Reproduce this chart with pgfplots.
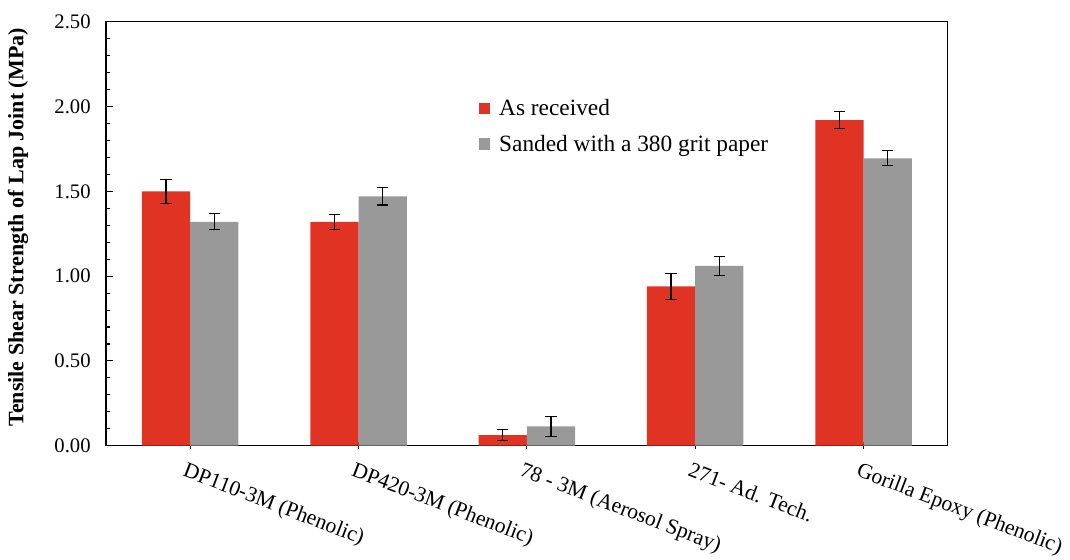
\documentclass[border=0pt]{standalone}
\usepackage{pgfplots}
\pgfplotsset{compat=1.18}
\usepackage{fontspec}
\setmainfont{Liberation Serif}
\definecolor{barred}{RGB}{224,51,36}
\definecolor{bargray}{RGB}{153,153,153}
\pgfplotsset{sqlegend/.style={legend image code/.code={\fill[##1] (0pt,-4.3pt) rectangle (8.6pt,4.3pt); \path (13.2pt,0pt);}}}
\begin{document}
\begin{tikzpicture}[font=\rmfamily]
\begin{axis}[
  at={(0,0)}, anchor=south west,
  width=631.3pt, height=318pt, scale only axis,
  ybar, bar width=36.2pt,
  xmin=-0.5, xmax=4.5, ymin=0, ymax=2.5,
  xtick={0,1,2,3,4},
  xticklabels={DP110-3M (Phenolic), DP420-3M (Phenolic), 78 - 3M (Aerosol Spray), 271- Ad. Tech., Gorilla Epoxy (Phenolic)},
  ytick={0,0.5,1,1.5,2,2.5},
  minor y tick num=4,
  xtick pos=bottom, ytick pos=left,
  xtick align=center, ytick align=inside,
  major tick length=5pt, minor tick length=3pt,
  tick style={black, line width=0.8pt},
  axis line style={black, line width=1.1pt},
  yticklabel style={font=\rmfamily\fontsize{15.5}{18}\selectfont, xshift=-8pt, /pgf/number format/.cd, fixed, fixed zerofill, precision=2, assume math mode=true},
  xticklabel style={font=\rmfamily\fontsize{16.2}{19}\selectfont, rotate=-21, anchor=north west, xshift=-2pt, yshift=-6pt},
  ylabel={Tensile Shear Strength of Lap Joint (MPa)},
  ylabel style={font=\rmfamily\bfseries\fontsize{16.5}{19}\selectfont, at={(axis description cs:-0.1046,0.515)}, anchor=center},
  legend style={at={(0.438,0.83)}, anchor=north west, draw=none, fill=none, font=\rmfamily\fontsize{17.5}{21}\selectfont, row sep=9pt},
  legend cell align=left,
  sqlegend,
]
\addplot[fill=barred, draw=none, bar shift=-18.1pt, sqlegend,
  error bars/.cd, y dir=both, y explicit,
  error bar style={black, line width=0.9pt},
  error mark options={rotate=90, mark size=4.2pt, black, line width=0.9pt}]
  table[x=x, y=y, y error=e] {
x y e
0 1.50 0.070
1 1.32 0.045
2 0.063 0.034
3 0.94 0.077
4 1.92 0.050
};
\addlegendentry{As received}
\addplot[fill=bargray, draw=none, bar shift=18.1pt, sqlegend,
  error bars/.cd, y dir=both, y explicit,
  error bar style={black, line width=0.9pt},
  error mark options={rotate=90, mark size=4.2pt, black, line width=0.9pt}]
  table[x=x, y=y, y error=e] {
x y e
0 1.32 0.047
1 1.47 0.051
2 0.114 0.060
3 1.06 0.056
4 1.695 0.044
};
\addlegendentry{Sanded with a 380 grit paper}
\end{axis}
\pgfresetboundingbox
\path (-79.5pt,-85pt) rectangle (723pt,334.3pt);
\end{tikzpicture}
\end{document}
